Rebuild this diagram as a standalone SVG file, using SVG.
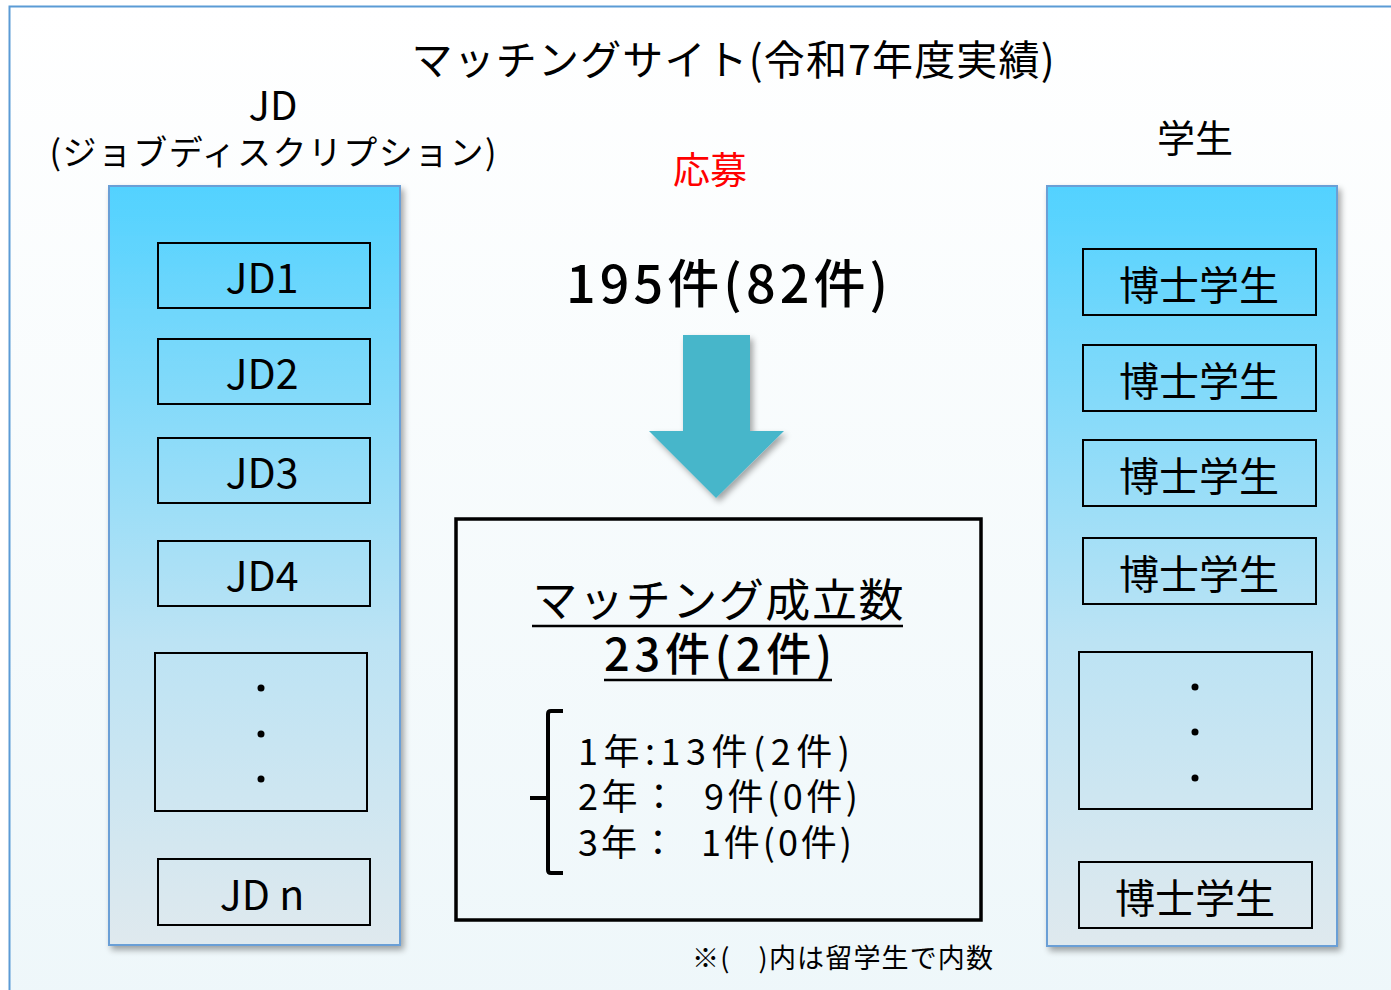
<svg xmlns="http://www.w3.org/2000/svg" width="1391" height="990" viewBox="0 0 1391 990">
<defs>
<linearGradient id="bg" x1="0" y1="0" x2="0" y2="1">
<stop offset="0" stop-color="#ffffff"/>
<stop offset="1" stop-color="#eef7fa"/>
</linearGradient>
<linearGradient id="col" x1="0" y1="0" x2="0" y2="1">
<stop offset="0" stop-color="#52d2ff"/>
<stop offset="0.6" stop-color="#bce3f4"/>
<stop offset="1" stop-color="#dfe9ee"/>
</linearGradient>
<filter id="sh" x="-10%" y="-10%" width="130%" height="130%">
<feGaussianBlur in="SourceAlpha" stdDeviation="3"/>
<feOffset dx="3" dy="4" result="b"/>
<feComponentTransfer><feFuncA type="linear" slope="0.35"/></feComponentTransfer>
<feMerge><feMergeNode/><feMergeNode in="SourceGraphic"/></feMerge>
</filter>
<marker id="ah" markerUnits="userSpaceOnUse" markerWidth="22" markerHeight="28" refX="2" refY="14" orient="auto">
<path d="M20,1 L2,14 L20,27 Z" fill="#000"/>
</marker>
<style>
text{font-family:"Noto Sans CJK JP","Noto Sans",sans-serif;fill:#000}
.col{fill:url(#col);stroke:#6a9fd6;stroke-width:2}
.box{fill:none;stroke:#000;stroke-width:2}
.lbl{font-size:41px;text-anchor:middle}
.stu{font-size:40px;text-anchor:middle}
.dot{fill:#000}
</style>
</defs>
<rect x="9.5" y="6.5" width="1400" height="1000" fill="url(#bg)" stroke="#5b9bd5" stroke-width="2"/>

<text x="733" y="75" font-size="41" text-anchor="middle" textLength="643" lengthAdjust="spacing">マッチングサイト(令和7年度実績)</text>
<text x="273" y="120" font-size="40" text-anchor="middle">JD</text>
<text x="273" y="165" font-size="34" text-anchor="middle" textLength="447" lengthAdjust="spacing">(ジョブディスクリプション)</text>
<text x="1195" y="152" font-size="38" text-anchor="middle">学生</text>

<g id="jd-column">
<rect class="col" x="109" y="186" width="291" height="759" filter="url(#sh)"/>
</g>
<g id="jd1"><rect class="box" x="158" y="243" width="212" height="65"/><text class="lbl" x="262" y="293">JD1</text></g>
<g id="jd2"><rect class="box" x="158" y="339" width="212" height="65"/><text class="lbl" x="262" y="389">JD2</text></g>
<g id="jd3"><rect class="box" x="158" y="438" width="212" height="65"/><text class="lbl" x="262" y="488">JD3</text></g>
<g id="jd4"><rect class="box" x="158" y="541" width="212" height="65"/><text class="lbl" x="262" y="591">JD4</text></g>
<g id="jd-dots"><rect class="box" x="155" y="653" width="212" height="158"/>
<circle class="dot" cx="261" cy="688" r="3.5"/><circle class="dot" cx="261" cy="734" r="3.5"/><circle class="dot" cx="261" cy="779" r="3.5"/></g>
<g id="jdn"><rect class="box" x="158" y="859" width="212" height="66"/><text class="lbl" x="262" y="910">JD n</text></g>

<g id="student-column">
<rect class="col" x="1047" y="186" width="290" height="760" filter="url(#sh)"/>
</g>
<g id="s1"><rect class="box" x="1083" y="249" width="233" height="66"/><text class="stu" x="1199" y="300">博士学生</text></g>
<g id="s2"><rect class="box" x="1083" y="345" width="233" height="66"/><text class="stu" x="1199" y="396">博士学生</text></g>
<g id="s3"><rect class="box" x="1083" y="440" width="233" height="66"/><text class="stu" x="1199" y="491">博士学生</text></g>
<g id="s4"><rect class="box" x="1083" y="538" width="233" height="66"/><text class="stu" x="1199" y="589">博士学生</text></g>
<g id="s-dots"><rect class="box" x="1079" y="652" width="233" height="157"/>
<circle class="dot" cx="1195" cy="687" r="3.5"/><circle class="dot" cx="1195" cy="732" r="3.5"/><circle class="dot" cx="1195" cy="778" r="3.5"/></g>
<g id="sn"><rect class="box" x="1079" y="862" width="233" height="66"/><text class="stu" x="1195" y="913">博士学生</text></g>

<g id="connectors">
<line x1="1002" y1="222" x2="447" y2="222" stroke="#000" stroke-width="8" marker-end="url(#ah)" filter="url(#sh)"/>
<path d="M683,335 H750 V431 H784 L716,498 L649,431 H683 Z" fill="#47b6ca" filter="url(#sh)"/>
</g>

<text x="710" y="184" font-size="37" style="fill:#ff0000" text-anchor="middle">応募</text>
<text x="727" y="303" font-size="52" font-weight="500" text-anchor="middle" textLength="322" lengthAdjust="spacing">195件(82件)</text>

<g id="result">
<rect x="456" y="519" width="525" height="401" fill="none" stroke="#000" stroke-width="3.5"/>
<text x="718" y="617" font-size="45" text-anchor="middle" textLength="371" lengthAdjust="spacing">マッチング成立数</text>
<line x1="532" y1="626" x2="903" y2="626" stroke="#000" stroke-width="2.5"/>
<text x="718" y="671" font-size="45" font-weight="500" text-anchor="middle" textLength="228" lengthAdjust="spacing">23件(2件)</text>
<line x1="604" y1="680" x2="832" y2="680" stroke="#000" stroke-width="2.5"/>
<path d="M563,711 H551 Q548,711 548,714 V870 Q548,873 551,873 H563 M548,798 H530" fill="none" stroke="#000" stroke-width="4"/>
<text x="578" y="765" font-size="36" textLength="272" lengthAdjust="spacing">1年:13件(2件)</text>
<text x="578" y="810" font-size="36" xml:space="preserve" textLength="280" lengthAdjust="spacing">2年：  9件(0件)</text>
<text x="578" y="856" font-size="36" xml:space="preserve" textLength="274" lengthAdjust="spacing">3年：  1件(0件)</text>
</g>

<text x="692" y="968" font-size="27" xml:space="preserve" textLength="301" lengthAdjust="spacing">※(　)内は留学生で内数</text>
</svg>
